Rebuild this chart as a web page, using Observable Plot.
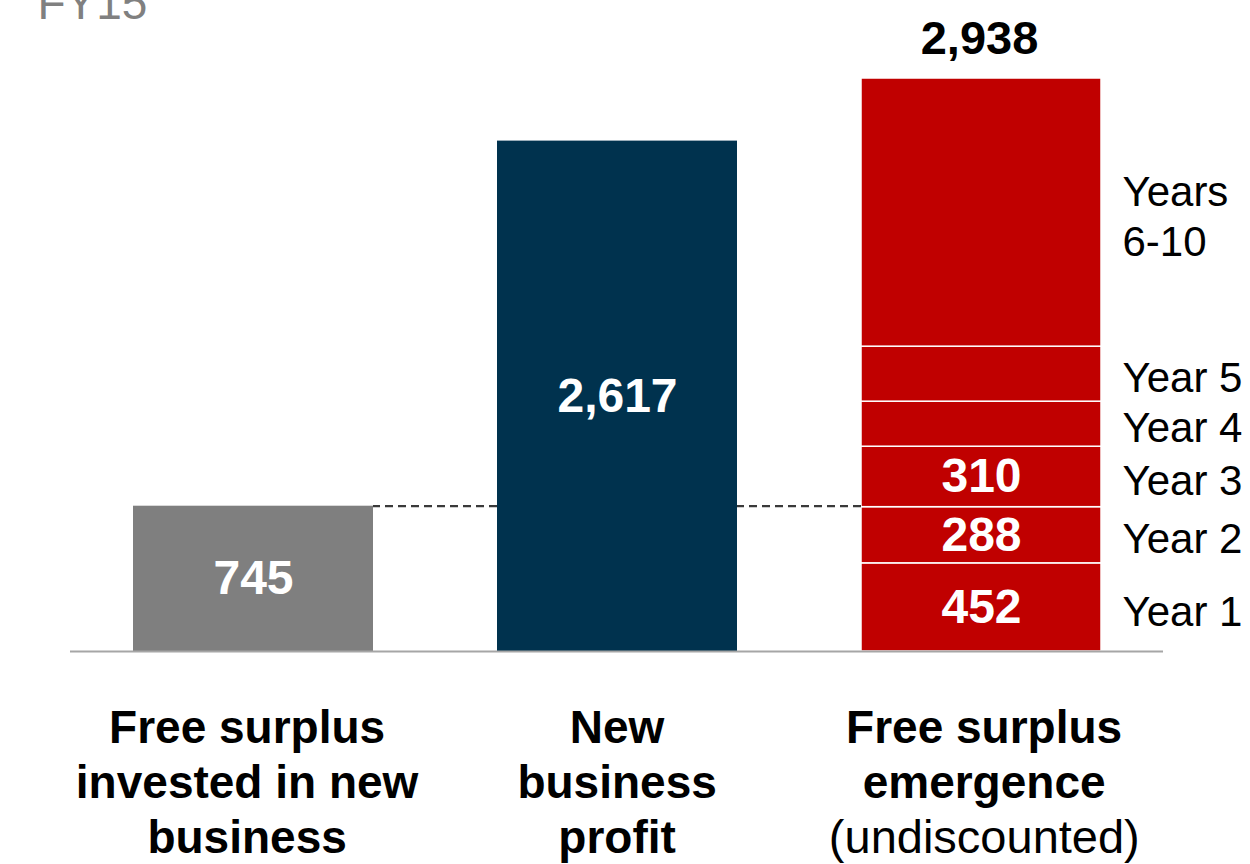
<!DOCTYPE html>
<html>
<head>
<meta charset="utf-8">
<script src="https://cdn.jsdelivr.net/npm/d3@7"></script>
<script src="https://cdn.jsdelivr.net/npm/@observablehq/plot@0.6"></script>
<style>
  html, body { margin: 0; padding: 0; background: #fff; }
  #chart svg { display: block; }
</style>
</head>
<body>
<div id="chart"></div>
<script>
// ---- data ----
const categories = [
  "Free surplus invested in new business",
  "New business profit",
  "Free surplus emergence (undiscounted)"
];
const singleValues = [745, 2617];
const emergenceSegments = ["Year 1", "Year 2", "Year 3", "Year 4", "Year 5", "Years\n6-10"];
const emergenceValues = [452, 288, 310, 231, 282, 1375];
const emergenceValueLabels = ["452", "288", "310", "", "", ""];
const emergenceTotal = 2938;
const categoryLabelLines = [
  ["Free surplus", "invested in new", "business"],
  ["New", "business", "profit"],
  ["Free surplus", "emergence", "(undiscounted)"]
];
const categoryLabelBold = [
  [true, true, true],
  [true, true, true],
  [true, true, false]
];
const barColors = ["#7F7F7F", "#00324E", "#C00000"];
const connectorLevel = 745;
const periodLabel = "FY15";

// ---- layout (styling, not data) ----
const font = "'Liberation Sans', Arial, sans-serif";
const lineOffsets = [91, 146, 201];
const labelShift = [-8, -2, 1];

// ---- build tables ----
const fmt = d3.format(",");
const rows = [];
singleValues.forEach((v, i) => rows.push({cat: categories[i], y1: 0, y2: v, label: fmt(v), seg: null}));
let acc = 0;
emergenceValues.forEach((v, i) => {
  rows.push({cat: categories[2], y1: acc, y2: acc + v, label: emergenceValueLabels[i], seg: emergenceSegments[i]});
  acc += v;
});
rows.forEach(r => r.mid = (r.y1 + r.y2) / 2);
const segRows = rows.filter(r => r.seg);
const plainRows = rows.filter(r => !r.seg);

const labelRows = [];
categoryLabelLines.forEach((lines, ci) => lines.forEach((t, li) =>
  labelRows.push({cat: categories[ci], ci, text: t, line: li, bold: categoryLabelBold[ci][li]})));

const connectors = [
  {from: categories[1], to: categories[0], y: connectorLevel},
  {from: categories[2], to: categories[1], y: connectorLevel}
];

const labelMarks = [];
lineOffsets.forEach((off, li) => {
  categories.forEach((c, ci) => {
    [true, false].forEach(bold => {
      const subset = labelRows.filter(d => d.line === li && d.ci === ci && d.bold === bold);
      if (!subset.length) return;
      labelMarks.push(Plot.text(subset, {
        x: "cat", y: () => 0, text: "text", lineAnchor: "bottom", dy: off,
        fontSize: bold ? 46 : 47, fontWeight: bold ? "bold" : "normal", fill: "black",
        letterSpacing: bold ? 3.2 : 3.7, dx: labelShift[ci] + (bold ? 1.6 : 1.8)
      }));
    });
  });
});

const chart = Plot.plot({
  width: 1250,
  height: 864,
  marginLeft: 70,
  marginRight: 87,
  marginTop: 78,
  marginBottom: 213,
  style: {fontFamily: font, background: "#fff", overflow: "visible"},
  x: {domain: categories, paddingInner: 0.3407, paddingOuter: 0.1717, axis: null},
  y: {domain: [0, emergenceTotal], axis: null},
  color: {domain: categories, range: barColors},
  marks: [
    Plot.barY(plainRows, {x: "cat", y1: "y1", y2: "y2", fill: "cat"}),
    Plot.barY(segRows, {x: "cat", y1: "y1", y2: "y2", fill: "cat", stroke: "white", strokeWidth: 1.5}),
    Plot.ruleY([0], {stroke: "#A6A6A6", strokeWidth: 2}),
    Plot.ruleY(connectors, {x1: "from", x2: "to", y: "y", stroke: "#3A3A3A", strokeWidth: 2.2, strokeDasharray: "8,5"}),
    // values inside bars
    Plot.text(rows, {x: "cat", y: "mid", text: "label", fill: "white", fontSize: 48, fontWeight: "bold"}),
    // total above stacked bar
    Plot.text([emergenceTotal], {x: () => categories[2], y: d => d, text: d => fmt(d), lineAnchor: "bottom", dy: -25, dx: -2, fontSize: 47, fontWeight: "bold", fill: "black"}),
    // segment names
    Plot.text(segRows, {x: "cat", y: "mid", text: "seg", textAnchor: "start", dx: 141, dy: 2, fontSize: 42, letterSpacing: 1.1, lineHeight: 1.2, fill: "black"}),
    ...labelMarks,
    // period label, partly cut off at top (as in the source)
    Plot.text([periodLabel], {frameAnchor: "top-left", text: d => d, textAnchor: "start", lineAnchor: "bottom", dx: -33, dy: -60, fontSize: 46, fill: "#808080"})
  ]
});
document.getElementById("chart").appendChild(chart);
</script>
</body>
</html>
